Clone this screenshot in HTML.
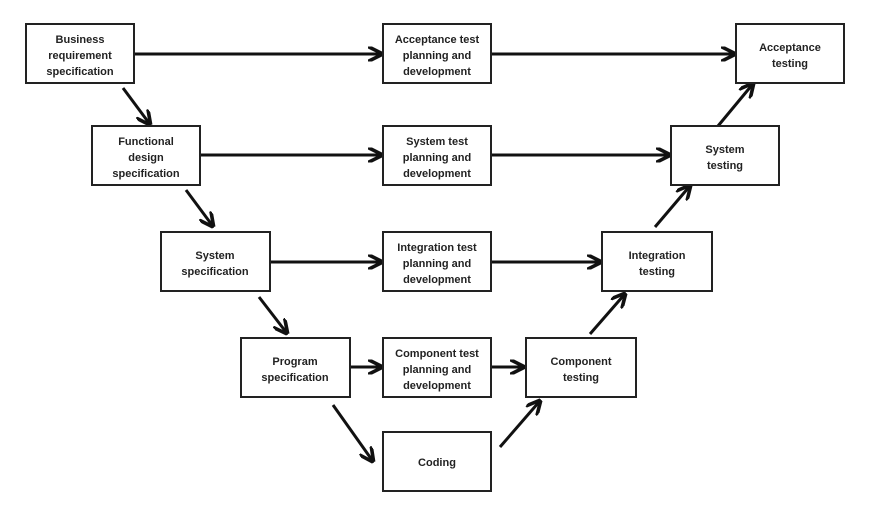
<!DOCTYPE html>
<html><head><meta charset="utf-8"><style>
body{margin:0;background:#fff;}
svg text{font-family:"Liberation Sans",sans-serif;font-size:11px;font-weight:bold;fill:#222;text-anchor:middle;}
rect{fill:#fff;stroke:#222;stroke-width:2;}
line{stroke:#111;stroke-width:3;}
</style></head><body>
<svg width="871" height="507" viewBox="0 0 871 507" xmlns="http://www.w3.org/2000/svg">
<defs><marker id="a" markerWidth="5" markerHeight="5" refX="4" refY="2.5" orient="auto" markerUnits="strokeWidth"><path d="M0,0 L5,2.5 L0,5" fill="none" stroke="#111" stroke-width="1.2"/></marker></defs>
<g>
<line x1="134" y1="54" x2="380" y2="54" marker-end="url(#a)"/>
<line x1="491" y1="54" x2="733" y2="54" marker-end="url(#a)"/>
<line x1="200" y1="155" x2="380" y2="155" marker-end="url(#a)"/>
<line x1="491" y1="155" x2="668" y2="155" marker-end="url(#a)"/>
<line x1="270" y1="262" x2="380" y2="262" marker-end="url(#a)"/>
<line x1="491" y1="262" x2="599" y2="262" marker-end="url(#a)"/>
<line x1="350" y1="367" x2="380" y2="367" marker-end="url(#a)"/>
<line x1="491" y1="367" x2="522" y2="367" marker-end="url(#a)"/>
<line x1="123" y1="88" x2="149" y2="123" marker-end="url(#a)"/>
<line x1="186" y1="190" x2="212" y2="225" marker-end="url(#a)"/>
<line x1="259" y1="297" x2="286" y2="332" marker-end="url(#a)"/>
<line x1="333" y1="405" x2="372" y2="460" marker-end="url(#a)"/>
<line x1="500" y1="447" x2="539" y2="402" marker-end="url(#a)"/>
<line x1="590" y1="334" x2="624" y2="295" marker-end="url(#a)"/>
<line x1="655" y1="227" x2="689" y2="187" marker-end="url(#a)"/>
<line x1="718" y1="126" x2="752" y2="85" marker-end="url(#a)"/>
</g>
<rect x="26" y="24" width="108" height="59"/>
<text x="80" y="43">Business</text><text x="80" y="59">requirement</text><text x="80" y="75">specification</text>
<rect x="383" y="24" width="108" height="59"/>
<text x="437" y="43">Acceptance test</text><text x="437" y="59">planning and</text><text x="437" y="75">development</text>
<rect x="736" y="24" width="108" height="59"/>
<text x="790" y="51">Acceptance</text><text x="790" y="67">testing</text>
<rect x="92" y="126" width="108" height="59"/>
<text x="146" y="145">Functional</text><text x="146" y="161">design</text><text x="146" y="177">specification</text>
<rect x="383" y="126" width="108" height="59"/>
<text x="437" y="145">System test</text><text x="437" y="161">planning and</text><text x="437" y="177">development</text>
<rect x="671" y="126" width="108" height="59"/>
<text x="725" y="153">System</text><text x="725" y="169">testing</text>
<rect x="161" y="232" width="109" height="59"/>
<text x="215" y="259">System</text><text x="215" y="275">specification</text>
<rect x="383" y="232" width="108" height="59"/>
<text x="437" y="251">Integration test</text><text x="437" y="267">planning and</text><text x="437" y="283">development</text>
<rect x="602" y="232" width="110" height="59"/>
<text x="657" y="259">Integration</text><text x="657" y="275">testing</text>
<rect x="241" y="338" width="109" height="59"/>
<text x="295" y="365">Program</text><text x="295" y="381">specification</text>
<rect x="383" y="338" width="108" height="59"/>
<text x="437" y="357">Component test</text><text x="437" y="373">planning and</text><text x="437" y="389">development</text>
<rect x="526" y="338" width="110" height="59"/>
<text x="581" y="365">Component</text><text x="581" y="381">testing</text>
<rect x="383" y="432" width="108" height="59"/>
<text x="437" y="466">Coding</text>
</svg>
</body></html>
